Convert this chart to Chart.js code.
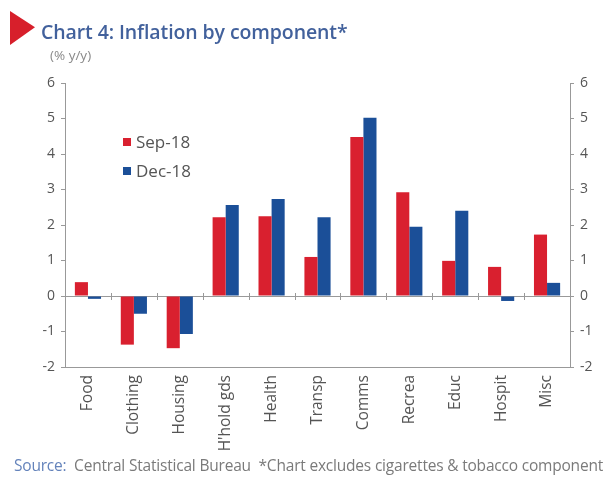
<!DOCTYPE html>
<html>
<head>
<meta charset="utf-8">
<script src="https://cdn.jsdelivr.net/npm/chart.js@4"></script>
<style>
  body { margin: 0; background: #fff; }
  #wrap { position: relative; width: 610px; height: 484px; font-family: "Open Sans", sans-serif; }
  #chart { position: absolute; left: 0; top: 0; }
  .tri { position: absolute; left: 10px; top: 11px; width: 25px; height: 34px; background: #d71f2b; clip-path: polygon(0 0, 100% 48%, 0 100%); }
  .title { position: absolute; left: 41px; top: 18px; font-size: 19.5px; font-weight: 600; color: #42619c; letter-spacing: -0.1px; }
  .unit { position: absolute; left: 50px; top: 46px; font-size: 13.5px; color: #8a8a8a; }
  .src { position: absolute; left: 14px; top: 454px; font-size: 15.5px; color: #7a7a7a; white-space: nowrap; letter-spacing: -0.2px; }
  .src span { color: #6483bb; }
</style>
</head>
<body>
<div id="wrap">
  <canvas id="chart" width="610" height="484"></canvas>
  <div class="tri"></div>
  <div class="title">Chart 4: Inflation by component*</div>
  <div class="unit">(% y/y)</div>
  <div class="src"><span>Source:</span>&nbsp; Central Statistical Bureau &nbsp;*Chart excludes cigarettes &amp; tobacco component</div>
</div>
<script>
// données
const categories = ["Food", "Clothing", "Housing", "H'hold gds", "Health", "Transp", "Comms", "Recrea", "Educ", "Hospit", "Misc"];
const sep18 = [0.39, -1.37, -1.47, 2.22, 2.25, 1.1, 4.48, 2.92, 0.99, 0.82, 1.73];
const dec18 = [-0.08, -0.5, -1.07, 2.56, 2.73, 2.22, 5.02, 1.95, 2.4, -0.14, 0.37];
const yTicks = [-2, -1, 0, 1, 2, 3, 4, 5, 6];

const RED = '#d9202f';
const BLUE = '#1b4f98';

// petits traits sur la ligne zéro entre les catégories + légende dans le graphique
const extras = {
  id: 'extras',
  afterDraw(chart) {
    const ctx = chart.ctx;
    const x = chart.scales.x;
    const y = chart.scales.y;
    const y0 = y.getPixelForValue(0);
    ctx.save();
    ctx.strokeStyle = '#999';
    ctx.lineWidth = 1;
    for (let i = 1; i < categories.length; i++) {
      const px = Math.round((x.getPixelForValue(i - 1) + x.getPixelForValue(i)) / 2) + 0.5;
      ctx.beginPath();
      ctx.moveTo(px, y0 - 3);
      ctx.lineTo(px, y0 + 4);
      ctx.stroke();
    }
    // légende
    const items = [[RED, 'Sep-18', 142], [BLUE, 'Dec-18', 171]];
    ctx.font = '17px "Open Sans", sans-serif';
    ctx.textBaseline = 'middle';
    items.forEach(it => {
      ctx.fillStyle = it[0];
      ctx.fillRect(123, it[2] - 4, 8, 8);
      ctx.fillStyle = '#555';
      ctx.fillText(it[1], 136, it[2] + 1);
    });
    ctx.restore();
  }
};

const config = {
  type: 'bar',
  data: {
    labels: categories,
    datasets: [
      { label: 'Sep-18', data: sep18, backgroundColor: RED },
      { label: 'Dec-18', data: dec18, backgroundColor: BLUE }
    ]
  },
  options: {
    responsive: false,
    animation: false,
    layout: { padding: { top: 83, left: 0, right: 0, bottom: 0 } },
    categoryPercentage: 0.57,
    barPercentage: 1.0,
    plugins: { legend: { display: false }, tooltip: { enabled: false } },
    scales: {
      x: {
        grid: { display: false, drawTicks: false },
        border: { display: true, color: '#999', width: 1 },
        ticks: { color: '#555', font: { family: '"Open Sans", sans-serif', size: 15.5 }, minRotation: 90, maxRotation: 90, padding: 8, autoSkip: false },
        afterFit: s => { s.height = 484 - 367; }
      },
      y: {
        position: 'left',
        min: -2, max: 6,
        afterBuildTicks: s => { s.ticks = yTicks.map(v => ({ value: v })); },
        grid: {
          drawOnChartArea: true,
          color: c => c.tick && c.tick.value === 0 ? '#999' : 'rgba(0,0,0,0)',
          tickColor: '#999', tickLength: 4
        },
        border: { display: true, color: '#999' },
        ticks: { color: '#555', font: { family: '"Open Sans", sans-serif', size: 14 }, padding: 6 },
        afterFit: s => { s.width = 65; }
      },
      y2: {
        position: 'right',
        min: -2, max: 6,
        afterBuildTicks: s => { s.ticks = yTicks.map(v => ({ value: v })); },
        grid: { drawOnChartArea: false, tickColor: '#999', tickLength: 4 },
        border: { display: true, color: '#999' },
        ticks: { color: '#555', font: { family: '"Open Sans", sans-serif', size: 14 }, padding: 6 },
        afterFit: s => { s.width = 610 - 570; }
      }
    }
  },
  plugins: [extras]
};

new Chart(document.getElementById('chart'), config);
</script>
</body>
</html>
